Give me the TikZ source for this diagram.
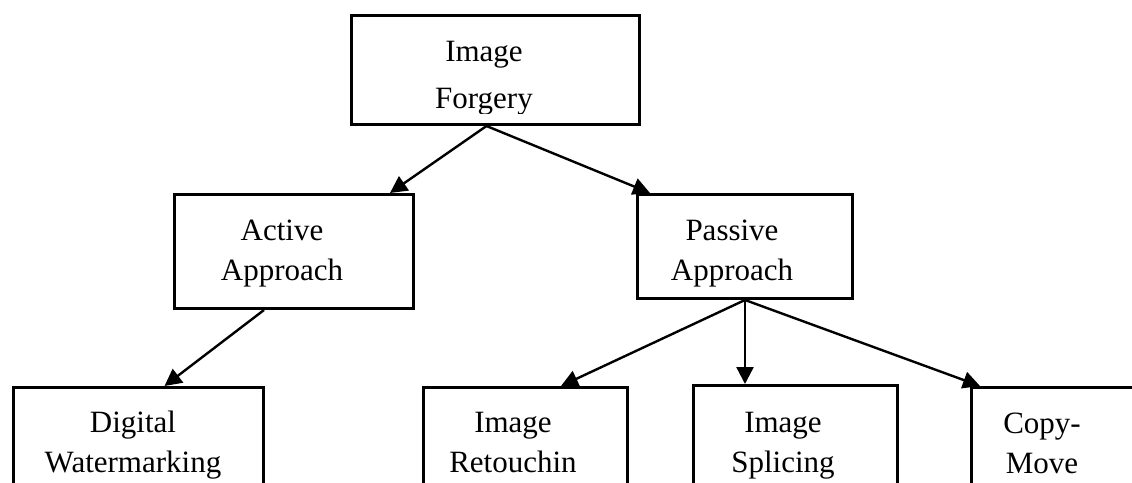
\documentclass[tikz,border=0pt]{standalone}
\usepackage{fontspec}
\setmainfont{Liberation Serif}
\usetikzlibrary{arrows.meta}

\begin{document}
\begin{tikzpicture}[
  x=1pt,y=-1pt,
  catbox/.style={draw=black,line width=3pt,inner sep=0pt,anchor=north west},
  lab/.style={font=\fontsize{31}{40}\selectfont,align=center,anchor=base,inner sep=0pt},
  link/.style={line width=2.4pt,-{Triangle[length=17pt,width=17pt]}}
]
\useasboundingbox (0,0) rectangle (1132,482);

% boxes
\node[catbox,minimum width=288pt,minimum height=109pt] (forgery) at (350,14) {};
\node[catbox,minimum width=239pt,minimum height=114pt] (active) at (173,193) {};
\node[catbox,minimum width=215pt,minimum height=104pt] (passive) at (636,193) {};
\node[catbox,minimum width=250pt,minimum height=120pt] (digital) at (12,386) {};
\node[catbox,minimum width=204pt,minimum height=120pt] (retouch) at (422,386) {};
\node[catbox,minimum width=204pt,minimum height=120pt] (splice) at (692,384) {};
\node[catbox,minimum width=174pt,minimum height=120pt] (copymove) at (970,386) {};

% texts (anchor = baseline of the last line)
\begin{scope}
  \clip (forgery.north west) rectangle ([yshift=13pt]forgery.south east);
  \node[lab] (forgery-t) at (484,108) {Image\\[7pt]Forgery};
\end{scope}
\node[lab] (active-t) at (282,280) {Active\\Approach};
\node[lab] (passive-t) at (732,280) {Passive\\Approach};
\node[lab] (digital-t) at (133,472) {Digital\\Watermarking};
\node[lab] (retouch-t) at (513,472) {Image\\Retouchin};
\node[lab] (splice-t) at (783,472) {Image\\Splicing};
\node[lab] (copymove-t) at (1042,473) {Copy-\\Move};

% arrows
\draw[link] ([xshift=-9pt]forgery.south) -- ([xshift=-25pt]active.north east);
\draw[link] ([xshift=-9pt]forgery.south) -- ([xshift=14pt]passive.north west);
\draw[link] ([xshift=-30pt]active.south) -- ([xshift=26pt]digital.north);
\draw[link] (passive.south) -- ([xshift=-68pt]retouch.north east);
\draw[link] (passive.south) -- (passive.south |- splice.north);
\draw[link] (passive.south) -- ([xshift=10pt]copymove.north west);

\end{tikzpicture}
\end{document}
